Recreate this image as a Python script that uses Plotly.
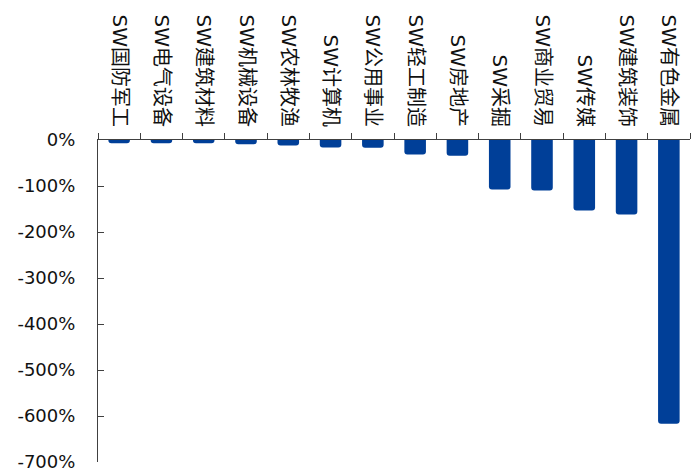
import plotly.graph_objects as go

# 申万行业分类
industries = ["SW国防军工", "SW电气设备", "SW建筑材料", "SW机械设备", "SW农林牧渔",
              "SW计算机", "SW公用事业", "SW轻工制造", "SW房地产", "SW采掘",
              "SW商业贸易", "SW传媒", "SW建筑装饰", "SW有色金属"]
# 变动幅度（%）
change_pct = [-7, -7, -7, -9, -12, -16.5, -17, -31.5, -34, -107.5, -110, -153, -162, -617]

y_ticks = [0, -100, -200, -300, -400, -500, -600, -700]
y_tick_text = ["0%", "-100%", "-200%", "-300%", "-400%", "-500%", "-600%", "-700%"]

bar_color = "#003f98"
axis_color = "#404040"

fig = go.Figure(
    go.Bar(
        x=industries,
        y=change_pct,
        marker=dict(color=bar_color, cornerradius=3, line=dict(width=0)),
    )
)

fig.update_layout(
    width=700,
    height=475,
    margin=dict(l=98, r=10, t=140, b=13),
    paper_bgcolor="white",
    plot_bgcolor="white",
    bargap=0.49,
    showlegend=False,
    font=dict(family="DejaVu Sans, Noto Sans CJK SC", color="#111111"),
)

fig.update_xaxes(
    type="category",
    side="top",
    automargin=False,
    showline=True,
    linecolor=axis_color,
    linewidth=1,
    ticks="outside",
    tickson="boundaries",
    ticklen=6,
    tickcolor=axis_color,
    tickangle=90,
    showgrid=False,
    ticklabelstandoff=5,
    tickfont=dict(size=20, family="DejaVu Sans, Noto Sans CJK SC"),
)

fig.update_yaxes(
    range=[-700, 0],
    automargin=False,
    tickvals=y_ticks,
    ticktext=y_tick_text,
    showline=True,
    linecolor=axis_color,
    linewidth=1,
    ticks="inside",
    ticklen=6,
    tickcolor=axis_color,
    showgrid=False,
    zeroline=False,
    ticklabelstandoff=18,
    tickfont=dict(size=18, family="DejaVu Sans"),
)

fig.write_html("out.html")
